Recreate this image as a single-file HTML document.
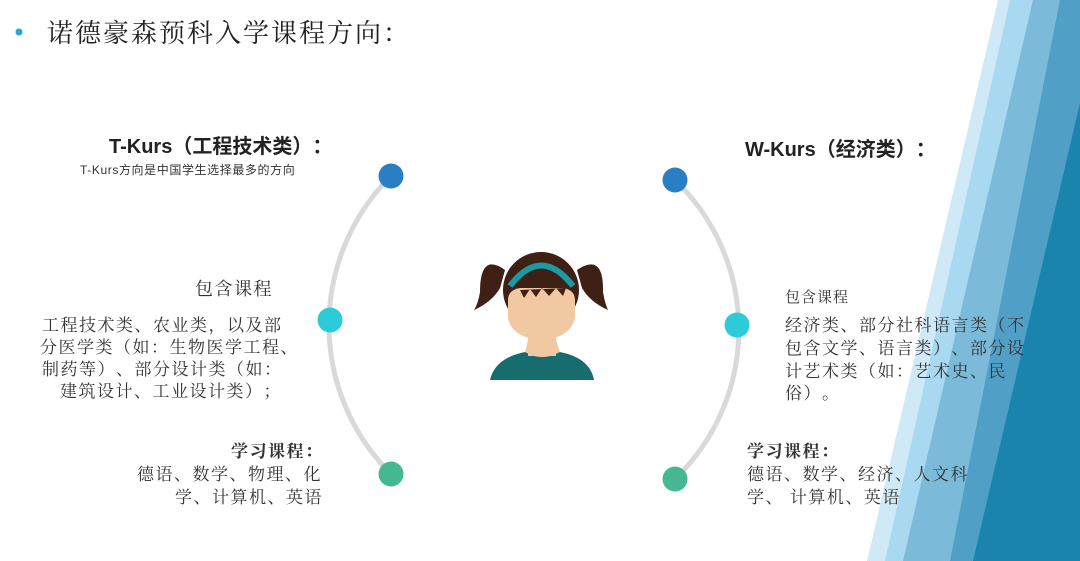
<!DOCTYPE html>
<html><head><meta charset="utf-8"><style>
body{margin:0;width:1080px;height:561px;overflow:hidden;background:#fff;position:relative;font-family:"Noto Serif CJK SC",serif;color:#333}
.t{position:absolute;white-space:nowrap;line-height:1;text-spacing-trim:space-all}
.b{font-size:17px;letter-spacing:1.5px}
</style></head><body>
<svg width="1080" height="561" style="position:absolute;left:0;top:0">
<polygon points="998,0 1080,0 1080,561 867,561" fill="#d0e9f7"/>
<polygon points="1010,0 1080,0 1080,561 885,561" fill="#a9d8f1"/>
<polygon points="1033,0 1080,0 1080,561 903,561" fill="#7bbad9"/>
<polygon points="1060,0 1080,0 1080,561 950,561" fill="#4f9fc6"/>
<polygon points="1104,0 1080,0 1080,0 1080,561 973,561" fill="#1b84ad"/>
<path d="M391,176 A210,210 0 0 0 391,474" fill="none" stroke="#d9d9d9" stroke-width="5"/>
<path d="M675,180 A207,207 0 0 1 675,479" fill="none" stroke="#d9d9d9" stroke-width="5"/>
<circle cx="391" cy="176" r="12.5" fill="#2a7fc4"/>
<circle cx="330" cy="320" r="12.5" fill="#2ccbd7"/>
<circle cx="391" cy="474" r="12.5" fill="#45b892"/>
<circle cx="675" cy="180" r="12.5" fill="#2a7fc4"/>
<circle cx="737" cy="325" r="12.5" fill="#2ccbd7"/>
<circle cx="675" cy="479" r="12.5" fill="#45b892"/>
<circle cx="19" cy="32" r="3.5" fill="#29a3dd"/>
<!-- girl -->
<path d="M490,380 Q495,358 525,352 L560,352 Q590,358 594,380 Z" fill="#176c6e"/>
<rect x="528" y="320" width="28" height="36" fill="#f2c8a2"/>
<path d="M525,352 Q542,362 560,352 L556,340 L528,340 Z" fill="#f2c8a2"/>
<ellipse cx="541" cy="290" rx="38" ry="38" fill="#3e2015"/>
<path d="M505,270 Q480,252 480,292 Q478,304 474,310 Q492,302 500,288 Z" fill="#3e2015"/>
<path d="M577,270 Q604,252 603,292 Q605,304 608,310 Q590,302 582,288 Z" fill="#3e2015"/>
<path d="M508,300 Q508,290 520,288 L563,288 Q575,290 575,300 L575,318 Q570,338 542,340 Q512,338 508,318 Z" fill="#f2c8a2"/>
<path d="M520,290 L524,298 L530,289 L536,297 L542,288 L549,296 L556,288 L563,296 L566,288 Z" fill="#3e2015"/>
<path d="M510,286 Q541,245 573,286" fill="none" stroke="#1c9aa3" stroke-width="6"/>
</svg>
<div class="t" style="left:47px;top:19px;font-size:26px;letter-spacing:2px;color:#222">诺德豪森预科入学课程方向：</div>

<div class="t" style="left:109px;top:137px;font-size:20px;font-weight:bold;font-family:'Liberation Sans','Noto Sans CJK SC',sans-serif;color:#222">T-Kurs（工程技术类）：</div>
<div class="t" style="left:80px;top:164px;font-size:12px;letter-spacing:0.6px;font-family:'Liberation Sans','Noto Sans CJK SC',sans-serif">T-Kurs方向是中国学生选择最多的方向</div>
<div class="t" style="left:195px;top:279px;font-size:18px;letter-spacing:1.5px">包含课程</div>
<div class="t b" style="left:42px;top:315px">工程技术类、农业类，以及部</div>
<div class="t b" style="left:40px;top:337px">分医学类（如：生物医学工程、</div>
<div class="t b" style="left:42px;top:359px">制药等）、部分设计类（如：</div>
<div class="t b" style="left:60px;top:381px">建筑设计、工业设计类）；</div>
<div class="t b" style="left:231px;top:441px;font-weight:bold">学习课程：</div>
<div class="t b" style="left:137px;top:464px">德语、数学、物理、化</div>
<div class="t b" style="left:175px;top:487px">学、计算机、英语</div>

<div class="t" style="left:745px;top:140px;font-size:20px;font-weight:bold;font-family:'Liberation Sans','Noto Sans CJK SC',sans-serif;color:#222">W-Kurs（经济类）：</div>
<div class="t" style="left:785px;top:289px;font-size:15px;letter-spacing:1px">包含课程</div>
<div class="t b" style="left:785px;top:315px">经济类、部分社科语言类（不</div>
<div class="t b" style="left:785px;top:338px">包含文学、语言类）、部分设</div>
<div class="t b" style="left:785px;top:361px">计艺术类（如：艺术史、民</div>
<div class="t b" style="left:785px;top:383px">俗）。</div>
<div class="t b" style="left:747px;top:441px;font-weight:bold">学习课程：</div>
<div class="t b" style="left:747px;top:464px">德语、数学、经济、人文科</div>
<div class="t b" style="left:747px;top:487px">学、 计算机、英语</div>
</body></html>
